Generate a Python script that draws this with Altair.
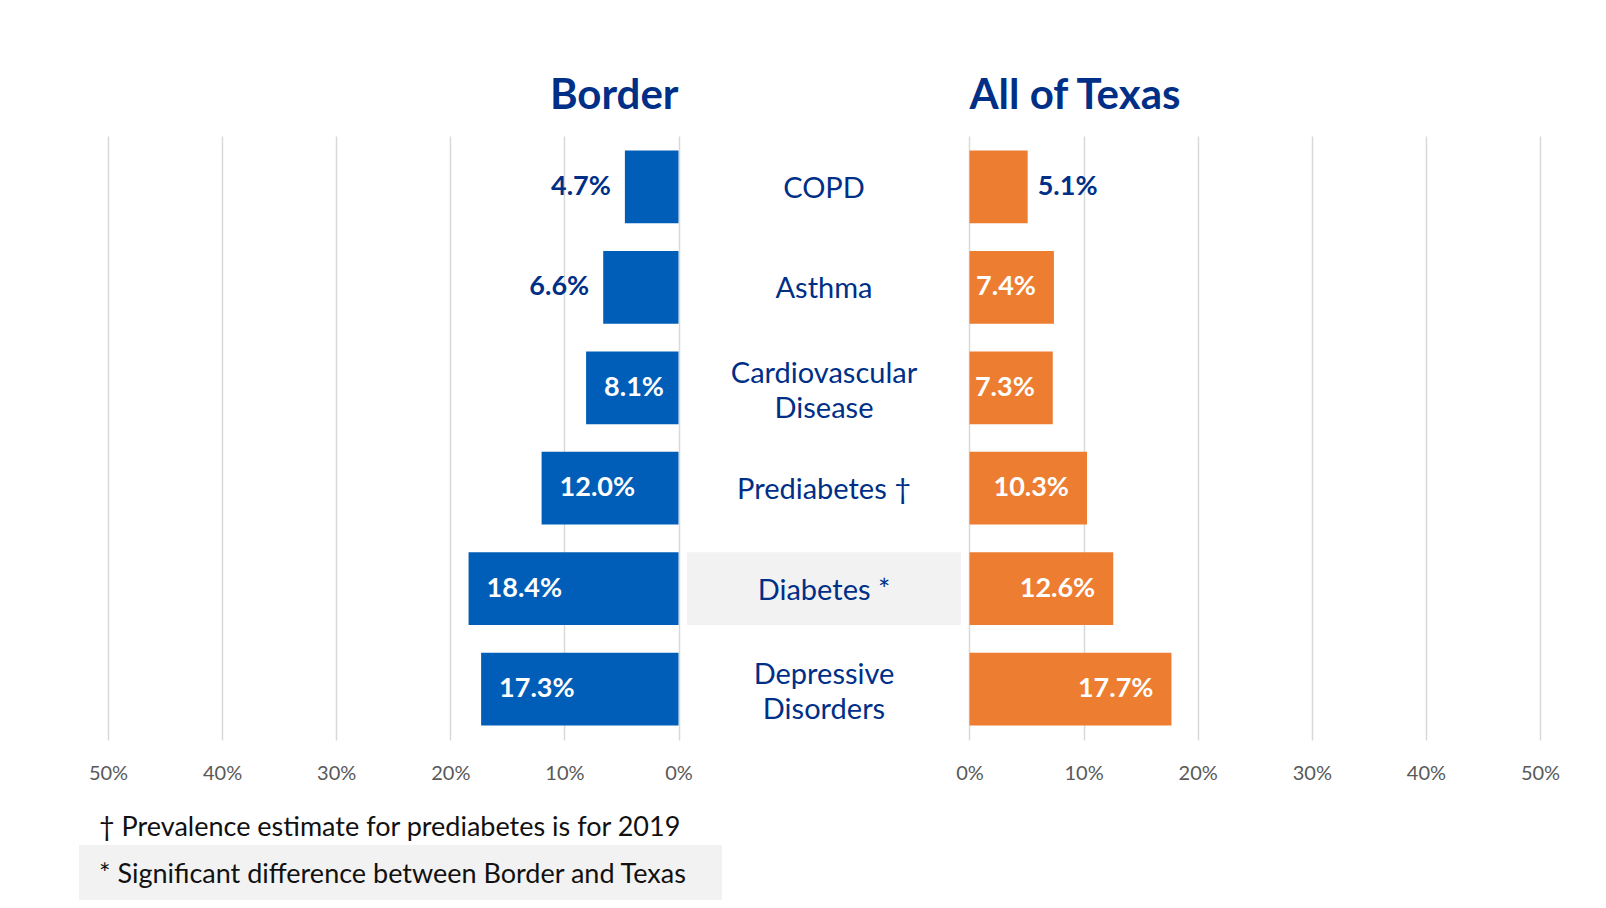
import altair as alt
import pandas as pd

# ---- data ----
categories = ["COPD", "Asthma", "Cardiovascular\nDisease", "Prediabetes †", "Diabetes *", "Depressive\nDisorders"]
border_values = [4.7, 6.6, 8.1, 12.0, 18.4, 17.3]
texas_values = [5.1, 7.4, 7.3, 10.3, 12.6, 17.7]
significant = [False, False, False, False, True, False]
panel_titles = ["Border", "All of Texas"]
tick_values = [0, 10, 20, 30, 40, 50]
footnotes = [
    "† Prevalence estimate for prediabetes is for 2019",
    "* Significant difference between Border and Texas",
]

# ---- styling ----
OFF = 12.75          # half-gap (in percentage-point units) for the centre label column
BLUE = "#005EB8"
ORANGE = "#ED7D31"
NAVY = "#002F87"
FONT = "Lato"

rows = []
for c, b, t in zip(categories, border_values, texas_values):
    rows.append({"category": c, "side": "Border", "v": b, "start": -OFF, "end": -(OFF + b), "label": f"{b:.1f}%"})
    rows.append({"category": c, "side": "Texas", "v": t, "start": OFF, "end": OFF + t, "label": f"{t:.1f}%"})
bars_df = pd.DataFrame(rows)
cat_df = pd.DataFrame({"category": categories, "sig": significant,
                       "multi": ["\n" in c for c in categories]})

tick_pos = [-(OFF + t) for t in tick_values] + [OFF + t for t in tick_values]

x_scale = alt.Scale(domain=[-(OFF + 50), OFF + 50], nice=False, zero=False)
y_scale = alt.Scale(domain=categories, paddingInner=0.276, paddingOuter=0.145)

x_axis = alt.Axis(
    values=tick_pos,
    labelExpr="format(abs(datum.value) - 12.75, '.0f') + '%'",
    grid=True, gridColor="#d9d9d9", gridWidth=1.5,
    domain=False, ticks=False, tickSize=0,
    labelFont=FONT, labelFontSize=20, labelColor="#595959",
    labelBaseline="alphabetic", labelPadding=39, title=None,
    labelFlush=False, labelOverlap=False, labelBound=False,
)

Y = alt.Y("category:N", scale=y_scale, axis=None, sort=categories)

highlight = alt.Chart(cat_df).transform_filter("datum.sig").mark_rect(color="#f2f2f2").encode(
    x=alt.datum(-12, scale=x_scale, axis=x_axis), x2=alt.datum(12), y=Y
)

bars = alt.Chart(bars_df).mark_bar().encode(
    x=alt.X("start:Q", scale=x_scale, axis=x_axis),
    x2="end:Q",
    y=Y,
    color=alt.Color("side:N", scale=alt.Scale(domain=["Border", "Texas"], range=[BLUE, ORANGE]), legend=None),
)

def cat_layer(filt, dy):
    return alt.Chart(cat_df).transform_filter(filt).mark_text(
        font=FONT, fontSize=29, color=NAVY, lineBreak="\n", lineHeight=35,
        baseline="middle", align="center", dy=dy
    ).encode(x=alt.datum(0), y=Y, text="category:N")

cat_single = cat_layer("!datum.multi", 2)
cat_multi = cat_layer("datum.multi", -14)

def vlabel(filt, align, dx, color):
    return alt.Chart(bars_df).transform_filter(filt).mark_text(
        font=FONT, fontSize=27, fontWeight="bold", color=color, align=align, dx=dx, baseline="middle"
    ).encode(x="end:Q", y=Y, text="label:N")

lab_l_in = vlabel("datum.side == 'Border' && datum.v >= 7", "left", 18, "white")
lab_l_out = vlabel("datum.side == 'Border' && datum.v < 7", "right", -14, NAVY)
lab_r_in = vlabel("datum.side == 'Texas' && datum.v >= 7", "right", -18, "white")
lab_r_out = vlabel("datum.side == 'Texas' && datum.v < 7", "left", 10, NAVY)

title_l = alt.Chart(pd.DataFrame({"t": [panel_titles[0]]})).mark_text(
    font=FONT, fontSize=42, fontWeight="bold", color=NAVY, align="right", baseline="alphabetic"
).encode(x=alt.datum(-OFF), y=alt.value(-27), text="t:N")
title_r = alt.Chart(pd.DataFrame({"t": [panel_titles[1]]})).mark_text(
    font=FONT, fontSize=42, fontWeight="bold", color=NAVY, align="left", baseline="alphabetic"
).encode(x=alt.datum(OFF), y=alt.value(-27), text="t:N")

foot_box = alt.Chart(pd.DataFrame({"a": [1]})).mark_rect(color="#f2f2f2").encode(
    x=alt.value(-29), x2=alt.value(614), y=alt.value(709), y2=alt.value(765)
)
foot1 = alt.Chart(pd.DataFrame({"t": [footnotes[0]]})).mark_text(
    font=FONT, fontSize=27, color="#111111", align="left", baseline="middle"
).encode(x=alt.value(-9), y=alt.value(692), text="t:N")
foot2 = alt.Chart(pd.DataFrame({"t": [footnotes[1]]})).mark_text(
    font=FONT, fontSize=27, color="#111111", align="left", baseline="middle"
).encode(x=alt.value(-9), y=alt.value(739), text="t:N")

chart = alt.layer(
    highlight, bars, cat_single, cat_multi, lab_l_in, lab_l_out, lab_r_in, lab_r_out,
    title_l, title_r, foot_box, foot1, foot2
).properties(
    width=1432, height=604,
    autosize=alt.AutoSizeParams(type="none"),
    padding={"left": 100, "top": 128, "right": 58, "bottom": 160},
    background="white",
).configure_view(stroke=None)

chart.save("out.html", embed_options={"renderer": "svg", "actions": False})
